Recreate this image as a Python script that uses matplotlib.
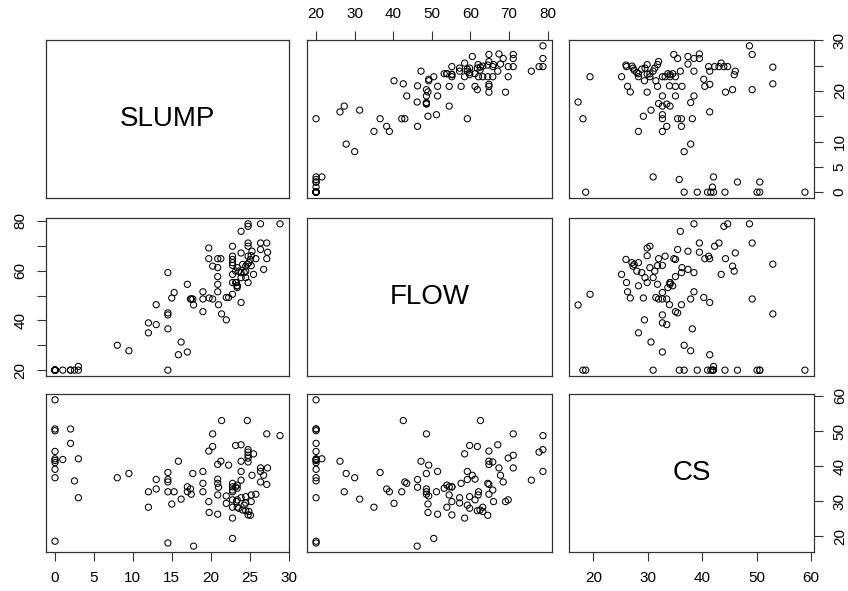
import matplotlib
matplotlib.use("Agg")
import matplotlib.pyplot as plt

# concrete slump test data
slump = [0, 0, 0, 0, 0, 0, 0, 0, 0, 0,
         1, 2, 2, 2.5, 3, 3, 14.5,
         8, 9.5, 12, 12, 13, 13,
         14.5, 14.5, 14.5, 14.5, 15, 15.3, 15.85, 16.2,
         17, 17, 17.4, 17.5, 17.7, 17.8,
         19, 19, 19,
         19.75, 19.75, 19.8, 20.25, 20.25,
         20.9, 21.3, 20.9, 20.9, 20.9, 20.9, 21, 21.4,
         22, 22, 22.3,
         22.8, 22.8, 22.8, 22.8, 22.8, 22.8, 22.8, 22.8,
         23.2, 23.2, 23.4, 23.4, 23.4, 23.3, 23.4, 23.6,
         23.9, 23.9, 23.9, 23.9, 23.9, 24.1, 24.3, 24.5, 24.5, 24.5,
         24.7, 24.8, 24.8, 24.8, 24.8, 24.8, 24.8, 24.9, 25.1, 25.3, 25.8, 25.2, 25.2, 25.5,
         26.4, 26.4, 26.4, 26.8, 27.2, 27.3, 27.2, 28.9]

flow = [20, 20, 20, 20, 20, 20, 20, 20, 20, 20,
        20, 20, 20, 20, 20, 21.5, 20,
        30, 27.8, 39, 35, 38.3, 46.3,
        59.2, 43, 42.2, 36.6, 49, 51.2, 26.2, 31.3,
        27.3, 54.5, 48.6, 48.6, 48.6, 46.2,
        51.5, 48.6, 43.5,
        69.1, 64.8, 49, 48.6, 61.8,
        64.8, 64.8, 61.2, 57.6, 54.5, 51.5, 46.3, 42.6,
        40.2, 49.2, 49.2,
        69.8, 65.8, 64.5, 63.2, 62.1, 58.5, 55.2, 50.5,
        59.8, 55.2, 53.9, 53.2, 61.2, 55.2, 53.9, 59.8,
        47.2, 75.8, 59.2, 67.1, 57.2, 62.5, 59.2, 59.8, 61.8, 57.2,
        62.6, 78.8, 77.8, 71.1, 69.8, 65.8, 55.2, 63.2, 64.5, 67.8, 64.8, 66, 62, 58.5,
        78.8, 71.1, 68.5, 60.5, 71.1, 67.4, 64.8, 78.8]

cs = [58.9, 50.6, 50.1, 44.2, 42.1, 41.6, 41.0, 39.1, 36.7, 18.6,
      41.9, 50.6, 46.5, 35.8, 31.0, 42.1, 18.1,
      36.7, 37.9, 32.7, 28.3, 33.5, 36.2,
      36.2, 35.5, 32.7, 38.2, 29.2, 32.7, 41.4, 30.6,
      32.7, 34.1, 33.5, 32.0, 37.9, 17.2,
      38.5, 32.7, 35.1,
      29.9, 44.3, 26.8, 49.2, 45.6,
      40.5, 41.4, 36.3, 35.1, 31.8, 26.3, 34.0, 53.0,
      29.4, 31.5, 40.3,
      30.4, 33.2, 35.1, 28.3, 32.7, 25.2, 34.1, 19.4,
      45.9, 34.1, 34.6, 33.7, 30.4, 29.9, 28.3, 28.0,
      41.4, 36.0, 38.5, 46.1, 31.0, 27.5, 28.9, 31.3, 27.3, 29.5,
      53.0, 44.7, 44.0, 43.1, 42.3, 41.2, 26.1, 27.1, 26.0, 37.4, 32.0, 29.9, 31.8, 43.5,
      38.5, 39.5, 35.5, 37.4, 49.2, 39.5, 34.8, 48.7]

names = ["SLUMP", "FLOW", "CS"]

plt.rcParams["font.family"] = ["Liberation Sans", "DejaVu Sans"]

W, H = 848, 591
cols = [(46, 289), (307, 552), (569, 814)]
rows = [(40, 198), (218, 376), (394, 552)]


def rng(v):
    lo, hi = min(v), max(v)
    r = hi - lo
    return lo - 0.04 * r, hi + 0.04 * r


data = [slump, flow, cs]
lims = [rng(v) for v in data]

fig = plt.figure(figsize=(W / 100, H / 100), dpi=100)

tick_kw = dict(length=6.5, width=0.8, labelsize=11, pad=7, color="#333333")

for i in range(3):
    for j in range(3):
        x0, x1 = cols[j]
        y0, y1 = rows[i]
        ax = fig.add_axes([x0 / W, 1 - y1 / H, (x1 - x0) / W, (y1 - y0) / H])
        ax.set_xlim(lims[j])
        ax.set_ylim(lims[i])
        for s in ax.spines.values():
            s.set_linewidth(0.9)
            s.set_color("#333333")
        ax.set_xticks([])
        ax.set_yticks([])
        if i == j:
            ax.text(0.5, 0.5, names[i], transform=ax.transAxes,
                    ha="center", va="center", fontsize=20)
        else:
            ax.scatter(data[j], data[i], s=20, facecolors="none",
                       edgecolors="black", linewidths=0.75)

        # axes drawn the way pairs() alternates them
        if i == 0 and j == 1:
            ax.set_xticks(range(20, 81, 10))
            ax.xaxis.tick_top()
            ax.tick_params(axis="x", **tick_kw)
        if i == 0 and j == 2:
            ax.set_yticks(range(0, 31, 5))
            ax.set_yticklabels(["0", "5", "10", "", "20", "", "30"], rotation=90, va="center")
            ax.yaxis.tick_right()
            ax.tick_params(axis="y", **tick_kw)
        if i == 1 and j == 0:
            ax.set_yticks(range(20, 81, 10))
            ax.set_yticklabels(["20", "", "40", "", "60", "", "80"], rotation=90, va="center")
            ax.tick_params(axis="y", **tick_kw)
        if i == 2 and j == 0:
            ax.set_xticks(range(0, 31, 5))
            ax.tick_params(axis="x", **tick_kw)
        if i == 2 and j == 2:
            ax.set_xticks(range(20, 61, 10))
            ax.tick_params(axis="x", **tick_kw)
            ax.set_yticks(range(20, 61, 10))
            ax.set_yticklabels([str(t) for t in range(20, 61, 10)], rotation=90, va="center")
            ax.yaxis.tick_right()
            ax.tick_params(axis="y", **tick_kw)

fig.savefig("out.png", dpi=100)
